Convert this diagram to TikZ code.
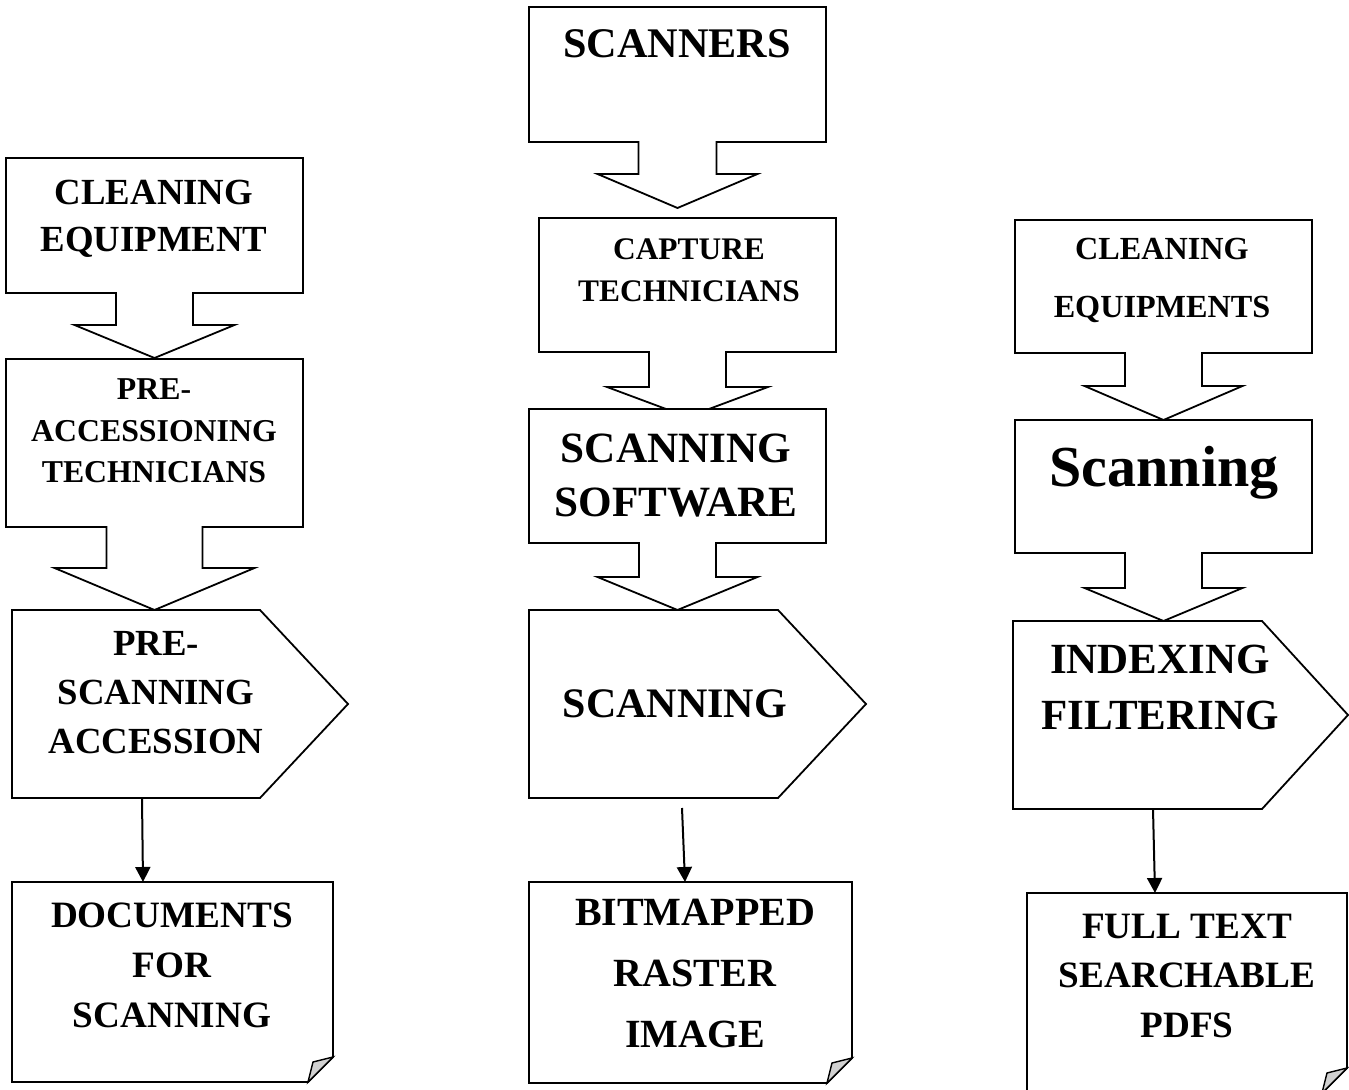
\documentclass[tikz,border=0pt]{standalone}
\usepackage{fontspec}
\setmainfont{Liberation Serif}
\usetikzlibrary{arrows.meta,calc}

\begin{document}
\begin{tikzpicture}[
    x=0.5pt, y=-0.5pt,
    frame/.style={inner sep=0pt, outer sep=0pt, anchor=north west},
    outline/.style={draw, line width=0.9pt, fill=white},
    lbl/.style={align=center, anchor=base, inner sep=0pt},
    arrow/.style={-{Triangle[length=7.5pt,width=7.5pt]}, line width=1pt},
    fold/.style={draw, line width=0.7pt, fill=black!18}
  ]
  \useasboundingbox (0,0) rectangle (1349,1090);

  % left column
  \node[frame, minimum width=148.5pt, minimum height=67.5pt] (ce) at (6,158) {};
  \node[frame, minimum width=148.5pt, minimum height=84pt] (pat) at (6,359) {};
  \node[frame, minimum width=168pt, minimum height=94pt] (psa) at (12,610) {};
  \node[frame, minimum width=160.5pt, minimum height=100pt] (dfs) at (12,882) {};
  % middle column
  \node[frame, minimum width=148.5pt, minimum height=67.5pt] (scn) at (529,7) {};
  \node[frame, minimum width=148.5pt, minimum height=67pt] (cap) at (539,218) {};
  \node[frame, minimum width=148.5pt, minimum height=67pt] (ssw) at (529,409) {};
  \node[frame, minimum width=168.5pt, minimum height=94pt] (sc) at (529,610) {};
  \node[frame, minimum width=161.5pt, minimum height=100.5pt] (bri) at (529,882) {};
  % right column
  \node[frame, minimum width=148.5pt, minimum height=66.5pt] (cer) at (1015,220) {};
  \node[frame, minimum width=148.5pt, minimum height=66.5pt] (scr) at (1015,420) {};
  \node[frame, minimum width=167.5pt, minimum height=94pt] (ifr) at (1013,621) {};
  \node[frame, minimum width=160pt, minimum height=100pt] (fts) at (1027,893) {};

  % boxes with a block arrow below
  \foreach \n/\sw/\sl/\hw/\hl in {ce/38.5/32/80/33, pat/48/41/100/42,
      scn/39/32/80/34, cap/38.5/35/80.5/30, ssw/38.5/34/80/33,
      cer/38.5/33/79/34, scr/38.5/35/79/33}
    \draw[outline] (\n.north west) -- (\n.north east) -- (\n.south east)
      -- ($(\n.south)+(\sw,0)$) -- ($(\n.south)+(\sw,\sl)$) -- ($(\n.south)+(\hw,\sl)$)
      -- ($(\n.south)+(0,\sl+\hl)$) -- ($(\n.south)+(-\hw,\sl)$)
      -- ($(\n.south)+(-\sw,\sl)$) -- ($(\n.south)+(-\sw,0)$) -- (\n.south west) -- cycle;

  % pointed boxes
  \foreach \n/\d in {psa/88, sc/88, ifr/86}
    \draw[outline] (\n.north west) -- ($(\n.north east)+(-\d,0)$) -- (\n.east)
      -- ($(\n.south east)+(-\d,0)$) -- (\n.south west) -- cycle;

  % documents with folded corner
  \foreach \n in {dfs, bri, fts} {
    \draw[outline] (\n.north west) -- (\n.north east) -- ($(\n.south east)+(0,-25)$)
      -- ($(\n.south east)+(-25,0)$) -- (\n.south west) -- cycle;
    \draw[fold] ($(\n.south east)+(0,-25)$) -- ($(\n.south east)+(-20,-20)$)
      -- ($(\n.south east)+(-25,0)$) -- cycle;
  }

  % texts (placed by the baseline of their last line)
  \node[lbl, font=\bfseries\fontsize{18.4}{23.5}\selectfont] (ce-t) at (154,252) {CLEANING\\EQUIPMENT};
  \node[lbl, font=\bfseries\fontsize{15.9}{20.8}\selectfont] (pat-t) at (154,483) {PRE-\\ACCESSIONING\\TECHNICIANS};
  \node[lbl, font=\bfseries\fontsize{18.4}{24.5}\selectfont] (psa-t) at (156,753) {PRE-\\SCANNING\\ACCESSION};
  \node[lbl, font=\bfseries\fontsize{18.6}{25}\selectfont] (dfs-t) at (172,1027) {DOCUMENTS\\FOR\\SCANNING};
  \node[lbl, font=\bfseries\fontsize{21.1}{26}\selectfont] (scn-t) at (677,58) {SCANNERS};
  \node[lbl, font=\bfseries\fontsize{15.7}{21}\selectfont] (cap-t) at (689,302) {CAPTURE\\TECHNICIANS};
  \node[lbl, font=\bfseries\fontsize{21.6}{27.5}\selectfont] (ssw-t) at (676,517) {SCANNING\\SOFTWARE};
  \node[lbl, font=\bfseries\fontsize{21}{26}\selectfont] (sc-t) at (675,717) {SCANNING};
  \node[lbl, font=\bfseries\fontsize{20}{30.5}\selectfont] (bri-t) at (695,1047) {BITMAPPED\\RASTER\\IMAGE};
  \node[lbl, font=\bfseries\fontsize{16.1}{29}\selectfont] (cer-t) at (1162,318) {CLEANING\\EQUIPMENTS};
  \node[lbl, font=\bfseries\fontsize{29}{34}\selectfont] (scr-t) at (1164,487) {Scanning};
  \node[lbl, font=\bfseries\fontsize{21.5}{28}\selectfont] (ifr-t) at (1160,729) {INDEXING\\FILTERING};
  \node[lbl, font=\bfseries\fontsize{18.6}{24.7}\selectfont] (fts-t) at (1187,1037) {FULL TEXT\\SEARCHABLE\\PDFS};

  % connectors
  \draw[arrow] ($(psa.south west)+(130,0)$) -- ($(dfs.north west)+(131,0)$);
  \draw[arrow] ($(sc.south west)+(153,10)$) -- ($(bri.north west)+(156,0)$);
  \draw[arrow] ($(ifr.south west)+(140,0)$) -- ($(fts.north west)+(128,0)$);
\end{tikzpicture}
\end{document}
